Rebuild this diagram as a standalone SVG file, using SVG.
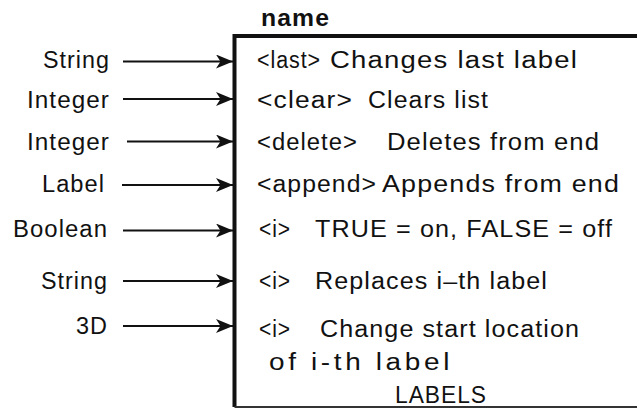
<svg xmlns="http://www.w3.org/2000/svg" width="637" height="409" viewBox="0 0 637 409">
  <style>
    text { font-family: "Liberation Sans", Arial, Helvetica, sans-serif; font-size: 23px; fill: #111; letter-spacing: 1px; }
    .lbl { text-anchor: end; }
    .title { font-weight: bold; }
    .wide { letter-spacing: 3px; }
    .conn { stroke: #111; stroke-width: 2; fill: none; marker-end: url(#arr); }
    .frame { stroke: #111; fill: none; stroke-width: 4; }
    .bottom { stroke: #333; stroke-width: 2; fill: none; }
  </style>
  <defs>
    <marker id="arr" viewBox="0 0 17 14" refX="17" refY="7" markerWidth="17" markerHeight="14" markerUnits="userSpaceOnUse" orient="auto">
      <path d="M0,0 L17,7 L0,14 L4.5,7 z" fill="#111"/>
    </marker>
  </defs>
  <rect width="637" height="409" fill="#fff"/>

  <g id="in-string1"><text class="lbl" x="110" y="68" textLength="67" lengthAdjust="spacingAndGlyphs">String</text></g>
  <g id="in-integer1"><text class="lbl" x="110" y="108" textLength="83" lengthAdjust="spacingAndGlyphs">Integer</text></g>
  <g id="in-integer2"><text class="lbl" x="110" y="150" textLength="83" lengthAdjust="spacingAndGlyphs">Integer</text></g>
  <g id="in-label"><text class="lbl" x="105" y="192" textLength="63" lengthAdjust="spacingAndGlyphs">Label</text></g>
  <g id="in-boolean"><text class="lbl" x="108" y="237" textLength="95" lengthAdjust="spacingAndGlyphs">Boolean</text></g>
  <g id="in-string2"><text class="lbl" x="108" y="289" textLength="67" lengthAdjust="spacingAndGlyphs">String</text></g>
  <g id="in-3d"><text class="lbl" x="108" y="334" textLength="32" lengthAdjust="spacingAndGlyphs">3D</text></g>

  <g id="labels-node">
    <text class="title" x="261" y="26" textLength="69" lengthAdjust="spacingAndGlyphs">name</text>
    <path class="frame" d="M637,36 H234.5 V407"/>
    <path class="bottom" d="M234.5,407 H637"/>
    <text x="257" y="68" textLength="64" lengthAdjust="spacingAndGlyphs">&lt;last&gt;</text>
    <text x="330" y="68" textLength="248" lengthAdjust="spacingAndGlyphs">Changes last label</text>
    <text x="257" y="108" textLength="96" lengthAdjust="spacingAndGlyphs">&lt;clear&gt;</text>
    <text x="368" y="108" textLength="121" lengthAdjust="spacingAndGlyphs">Clears list</text>
    <text x="257" y="150" textLength="101" lengthAdjust="spacingAndGlyphs">&lt;delete&gt;</text>
    <text x="387" y="150" textLength="213" lengthAdjust="spacingAndGlyphs">Deletes from end</text>
    <text x="257" y="192" textLength="120" lengthAdjust="spacingAndGlyphs">&lt;append&gt;</text>
    <text x="382" y="192" textLength="238" lengthAdjust="spacingAndGlyphs">Appends from end</text>
    <text x="259" y="237" textLength="32" lengthAdjust="spacingAndGlyphs">&lt;i&gt;</text>
    <text x="315" y="237" textLength="298" lengthAdjust="spacingAndGlyphs">TRUE = on, FALSE = off</text>
    <text x="259" y="289" textLength="32" lengthAdjust="spacingAndGlyphs">&lt;i&gt;</text>
    <text x="315" y="289" textLength="233" lengthAdjust="spacingAndGlyphs">Replaces i–th label</text>
    <text x="259" y="337" textLength="32" lengthAdjust="spacingAndGlyphs">&lt;i&gt;</text>
    <text x="320" y="337" textLength="260" lengthAdjust="spacingAndGlyphs">Change start location</text>
    <text class="wide" x="269" y="370" textLength="184" lengthAdjust="spacingAndGlyphs">of i-th label</text>
    <text x="395" y="403" textLength="92" lengthAdjust="spacingAndGlyphs">LABELS</text>
  </g>

  <g id="connectors">
    <line class="conn" x1="123" y1="61.5" x2="233" y2="61.5"/>
    <line class="conn" x1="123" y1="99" x2="233" y2="99"/>
    <line class="conn" x1="127" y1="141.5" x2="233" y2="141.5"/>
    <line class="conn" x1="122" y1="185" x2="233" y2="185"/>
    <line class="conn" x1="123" y1="230.5" x2="233" y2="230.5"/>
    <line class="conn" x1="123" y1="281" x2="233" y2="281"/>
    <line class="conn" x1="123" y1="326" x2="233" y2="326"/>
  </g>
</svg>
